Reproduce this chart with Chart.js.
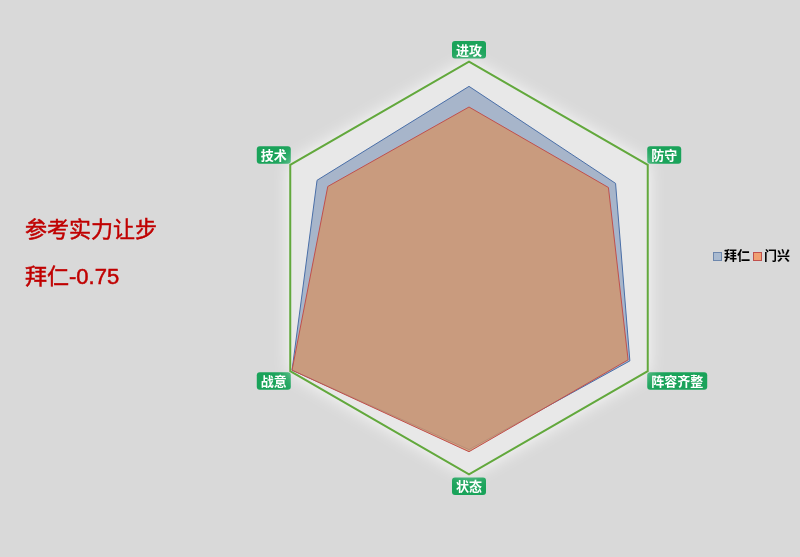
<!DOCTYPE html>
<html>
<head>
<meta charset="utf-8">
<script src="https://cdn.jsdelivr.net/npm/chart.js@4"></script>
<style>
  body { margin: 0; background: #d9d9d9; font-family: "Noto Sans CJK SC", sans-serif; }
  #wrap { position: relative; width: 800px; height: 557px; }
  #radar { position: absolute; left: 0; top: 0; }
  .note { position: absolute; left: 25px; color: #c00000; font-size: 22px; -webkit-text-stroke: 0.5px #c00000; font-family: "Liberation Sans", "Noto Sans CJK SC", sans-serif; }
  #legend { position: absolute; left: 713px; top: 245px; font-size: 13px; font-weight: bold; color: #000; }
  #legend span.box { display: inline-block; width: 7px; height: 7px; border: 1px solid; margin-right: 2px; vertical-align: -1px; }
</style>
</head>
<body>
<div id="wrap">
  <canvas id="radar" width="800" height="557"></canvas>
  <div class="note" style="top:211px">参考实力让步</div>
  <div class="note" style="top:258px">拜仁-0.75</div>
  <div id="legend"></div>
</div>
<script>
var categorias = ['进攻', '防守', '阵容齐整', '状态', '战意', '技术'];
var times = ['拜仁', '门兴'];
var valores_bayern = [88, 82, 90, 88, 99, 85];
var valores_gladbach = [78, 78, 89, 89, 99, 79];

// fundo do hexagono com brilho
const fundo_hexagono = {
    id: 'fundo_hexagono',
    beforeDatasetsDraw(chart) {
        const r = chart.scales.r;
        const ctx = chart.ctx;
        const dist = r.getDistanceFromCenterForValue(r.max);
        ctx.save();
        ctx.beginPath();
        for (let i = 0; i < categorias.length; i++) {
            const p = r.getPointPosition(i, dist);
            if (i === 0) ctx.moveTo(p.x, p.y); else ctx.lineTo(p.x, p.y);
        }
        ctx.closePath();
        ctx.shadowColor = 'rgba(255,255,255,0.95)';
        ctx.shadowBlur = 18;
        ctx.fillStyle = '#e8e8e8';
        ctx.fill();
        ctx.shadowBlur = 0;
        ctx.lineWidth = 2;
        ctx.strokeStyle = '#62a83c';
        ctx.stroke();
        ctx.restore();
    }
};

const grafico = document.getElementById('radar');

var myChart_radar = new Chart(grafico, {
    type: 'radar',
    data: {
        labels: categorias,
        datasets: [{
            label: times[0],
            borderColor: '#4a6fa8',
            backgroundColor: 'rgba(140,160,190,0.7)',
            data: valores_bayern,
            borderWidth: 1,
            pointRadius: 0,
            order: 2
        }, {
            label: times[1],
            borderColor: '#c0504d',
            backgroundColor: 'rgba(210,149,106,0.8)',
            data: valores_gladbach,
            borderWidth: 1,
            pointRadius: 0,
            order: 1
        }]
    },
    options: {
        responsive: false,
        animation: false,
        layout: { padding: { left: 225, right: 81, top: 42, bottom: 62 } },
        plugins: {
            legend: { display: false },
            tooltip: { enabled: false }
        },
        scales: {
            r: {
                min: 0,
                max: 100,
                ticks: { display: false, stepSize: 100 },
                grid: { display: false },
                angleLines: { display: false },
                pointLabels: {
                    color: '#ffffff',
                    font: { size: 13, weight: 'bold', family: '"Noto Sans CJK SC"' },
                    backdropColor: '#1aa35a',
                    backdropPadding: { left: 4, right: 4, top: 1, bottom: 1 },
                    borderRadius: 3,
                    padding: 4
                }
            }
        }
    },
    plugins: [fundo_hexagono]
});

// legenda horizontal
var cores_legenda = [['#a9bad0', '#6d87ad'], ['#f0a070', '#c0504d']];
var html = '';
for (let i = 0; i < times.length; i++) {
    html += '<span class="box" style="background:' + cores_legenda[i][0] + ';border-color:' + cores_legenda[i][1] + '"></span>' + times[i] + ' ';
}
document.getElementById('legend').innerHTML = html;
</script>
</body>
</html>
